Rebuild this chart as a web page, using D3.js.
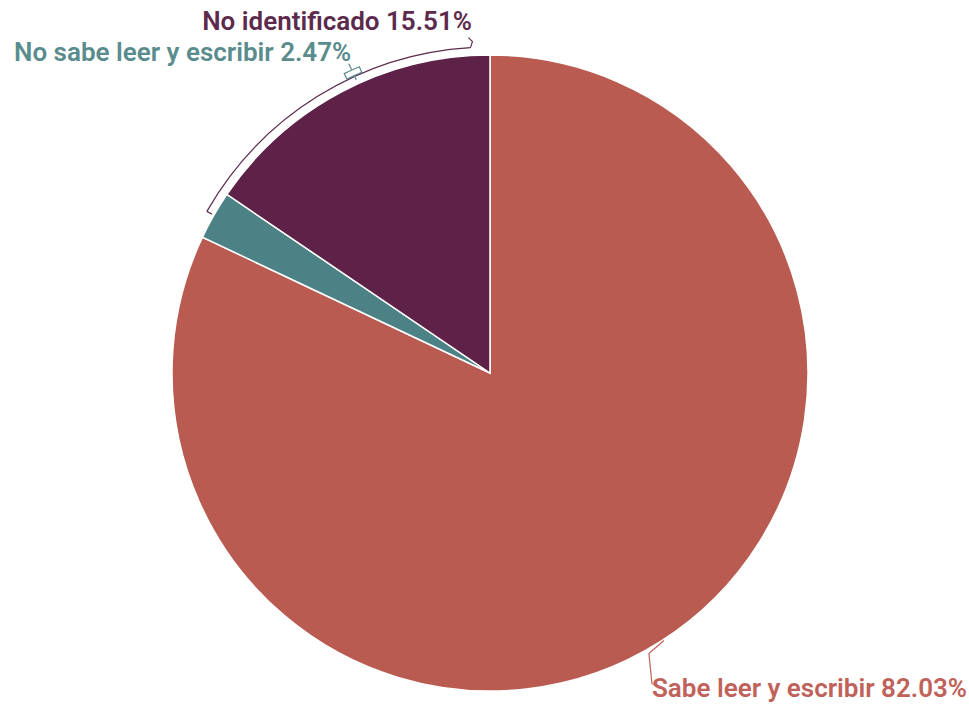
<!DOCTYPE html>
<html><head><meta charset="utf-8">
<script src="https://cdn.jsdelivr.net/npm/d3@7"></script>
<style>body{margin:0;background:#fff}svg{display:block}</style>
</head><body>
<svg id="c" width="969" height="708"></svg>
<script>
const categories = ["Sabe leer y escribir", "No sabe leer y escribir", "No identificado"];
const values = [82.03, 2.47, 15.51];
const labels = ["Sabe leer y escribir 82.03%", "No sabe leer y escribir 2.47%", "No identificado 15.51%"];
const colors = ["#b95b51", "#4c8186", "#5e2249"];
const textColors = ["#c0625a", "#5a8c8e", "#5c2a4c"];

const svg = d3.select("#c");
const cx = 490, cy = 373, r = 318;
const g = svg.append("g").attr("transform", `translate(${cx},${cy})`);
const data = categories.map((c, i) => ({c, v: values[i], i}));
const arcs = d3.pie().sort(null).value(d => d.v)(data);
const arc = d3.arc().innerRadius(0).outerRadius(r);

g.selectAll("path.s").data(arcs).join("path")
  .attr("class", "s")
  .attr("d", arc)
  .attr("fill", d => colors[d.data.i])
  .attr("stroke", "#fff").attr("stroke-width", 1.5);

const pt = (a, rad) => [rad * Math.sin(a), -rad * Math.cos(a)];

// No identificado bracket
{
  const a = arcs[2];
  const s = (arcs[1].startAngle + arcs[1].endAngle) / 2;
  const rb = r + 8;
  const p0 = pt(s, r + 2);
  const p1 = pt(s, rb);
  const br = d3.arc().innerRadius(rb).outerRadius(rb).startAngle(s).endAngle(a.endAngle - 0.06)();
  const e = pt(a.endAngle - 0.06, rb);
  const path = d3.path();
  g.append("path").attr("d", br).attr("fill", "none").attr("stroke", textColors[2]).attr("stroke-width", 1.2);
  path.moveTo(p0[0], p0[1]); path.lineTo(p1[0], p1[1]);
  path.moveTo(e[0], e[1]); path.lineTo(e[0] + 2, e[1] - 6); path.lineTo(e[0] - 2, e[1] - 10);
  g.append("path").attr("d", path.toString()).attr("fill", "none").attr("stroke", textColors[2]).attr("stroke-width", 1.2);
}
// No sabe bracket (small)
{
  const a0 = 5.83, a1 = 5.88;
  const br = d3.arc().innerRadius(r + 9).outerRadius(r + 15).startAngle(a0).endAngle(a1)();
  g.append("path").attr("d", br).attr("fill", "none").attr("stroke", textColors[1]).attr("stroke-width", 1.2);
  const q = pt((a0 + a1) / 2, r + 15), q2 = pt((a0 + a1) / 2, r + 22);
  const q3 = pt((a0 + a1) / 2, r + 4), q4 = pt((a0 + a1) / 2, r + 9);
  g.append("path").attr("d", `M${q[0]},${q[1]}L${q2[0]},${q2[1]}M${q3[0]},${q3[1]}L${q4[0]},${q4[1]}`)
    .attr("fill", "none").attr("stroke", textColors[1]).attr("stroke-width", 1.2);
}
// Sabe bracket
{
  const p = pt(2.565, r + 1);
  g.append("path").attr("d", `M${p[0]},${p[1]}L${p[0] - 15},${p[1] + 13}L${p[0] - 12},${p[1] + 43}L${p[0] - 8},${p[1] + 45}`)
    .attr("fill", "none").attr("stroke", textColors[0]).attr("stroke-width", 1.2);
}

const lab = svg.append("g").attr("font-family", "Roboto, sans-serif").attr("font-weight", 600).attr("font-size", 26);
lab.append("text").attr("x", 472).attr("y", 30).attr("text-anchor", "end").attr("fill", textColors[2]).text(labels[2]);
lab.append("text").attr("x", 14).attr("y", 61).attr("fill", textColors[1]).text(labels[1]);
lab.append("text").attr("x", 652).attr("y", 697).attr("fill", textColors[0]).text(labels[0]);
</script>
</body></html>
